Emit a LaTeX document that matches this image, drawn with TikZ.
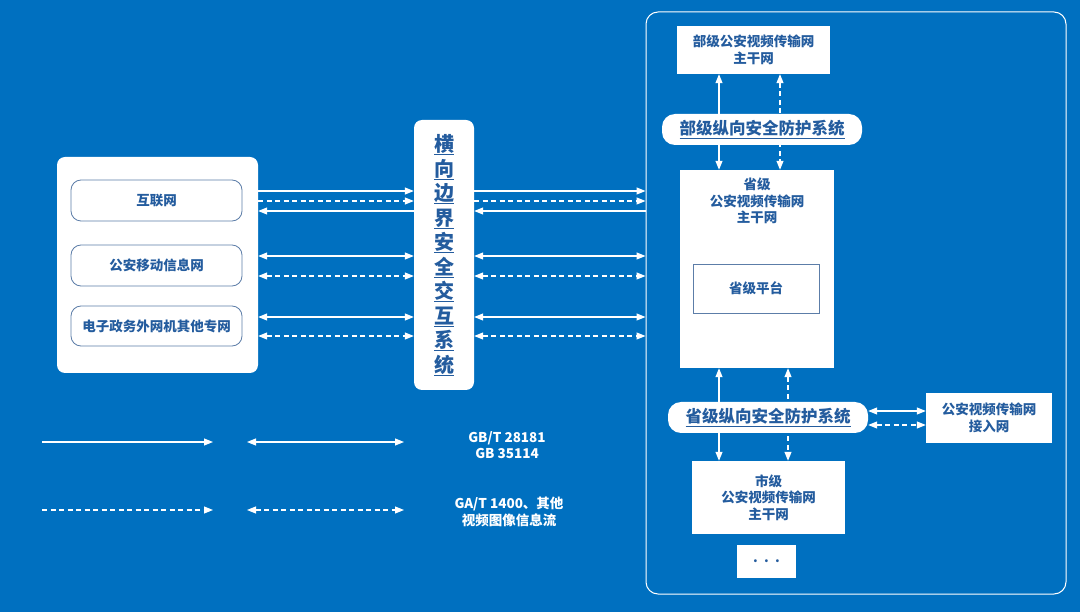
\documentclass[tikz,border=0pt]{standalone}
\usepackage{fontspec}
\setmainfont{Noto Sans CJK SC}
\usetikzlibrary{arrows.meta}
\definecolor{bgblue}{RGB}{0,112,192}
\definecolor{txtblue}{RGB}{36,92,158}
\definecolor{edgeblue}{RGB}{92,125,168}
\newcommand\ulchar[1]{\rlap{\rule[-3pt]{20pt}{0.7pt}}#1}
\tikzset{
  whitebox/.style={draw=none,fill=white,inner sep=0pt,align=center,text=txtblue,
    font=\bfseries\fontsize{13.5}{16.5}\selectfont},
  netbox/.style={whitebox,draw=edgeblue,line width=0.8pt,rounded corners=10pt},
  pillbox/.style={whitebox,rounded corners=13pt,font=\bfseries\fontsize{16.5}{18}\selectfont},
  solidln/.style={white,line width=1.1pt},
  dashln/.style={white,line width=1.1pt,dash pattern=on 5pt off 3.5pt},
  legendtxt/.style={align=center,text=white,font=\bfseries\fontsize{13.5}{16.5}\selectfont}
}

\begin{document}
\begin{tikzpicture}[x=1pt,y=1pt,yscale=-1,>={Triangle[length=9pt,width=7pt]}]
\useasboundingbox (0,0) rectangle (1080,612);
\fill[bgblue] (0,0) rectangle (1080,612);

% left networks
\node[whitebox,rounded corners=8pt,minimum width=201pt,minimum height=216pt] (lbox) at (157.5,265) {};
\node[netbox,minimum width=171pt,minimum height=41pt] (inet) at (156.5,200.5) {互联网};
\node[netbox,minimum width=171pt,minimum height=41pt] (mobile) at (156.5,265.5) {公安移动信息网};
\node[netbox,minimum width=171pt,minimum height=40pt] (egov) at (156.5,326) {电子政务外网机其他专网};

% horizontal boundary system
\node[whitebox,rounded corners=8pt,minimum width=60pt,minimum height=270pt,
  font=\bfseries\fontsize{20}{24.5}\selectfont] (hsys) at (444,255)
  {\ulchar{横}\\\ulchar{向}\\\ulchar{边}\\\ulchar{界}\\\ulchar{安}\\\ulchar{全}\\\ulchar{交}\\\ulchar{互}\\\ulchar{系}\\\ulchar{统}};

% right frame
\node[draw=white,line width=1pt,rounded corners=12pt,minimum width=420pt,minimum height=582pt,inner sep=0pt] (outer) at (856,303) {};

% rows of flows
\coordinate (ra) at (0,191);
\coordinate (rb) at (0,201);
\coordinate (rc) at (0,211);
\draw[solidln,->] (lbox.east |- ra) -- (hsys.west |- ra);
\draw[dashln,->] (lbox.east |- rb) -- (hsys.west |- rb);
\draw[solidln,<-] (lbox.east |- rc) -- (hsys.west |- rc);
\draw[solidln,->] (hsys.east |- ra) -- (outer.west |- ra);
\draw[dashln,->] (hsys.east |- rb) -- (outer.west |- rb);
\draw[solidln,<-] (hsys.east |- rc) -- (outer.west |- rc);
\foreach \r/\s/\y in {rd/solidln/256,re/dashln/276,rf/solidln/317,rg/dashln/336} {
  \coordinate (\r) at (0,\y);
  \draw[\s,<->] (lbox.east |- \r) -- (hsys.west |- \r);
  \draw[\s,<->] (hsys.east |- \r) -- (outer.west |- \r);
}

% ministry / province / city
\node[whitebox,minimum width=153pt,minimum height=48pt] (bu) at (753.5,50) {部级公安视频传输网\\主干网};
\node[whitebox,minimum width=154pt,minimum height=198pt] (prov) at (757,269) {};
\node[align=center,text=txtblue,font=\bfseries\fontsize{13.5}{16.5}\selectfont] (ptitle) at (757,201) {省级\\公安视频传输网\\主干网};
\node[whitebox,draw=edgeblue,line width=0.8pt,minimum width=126pt,minimum height=49pt] (plat) at (756,288.5) {省级平台};
\node[whitebox,minimum width=126pt,minimum height=50pt] (access) at (989,418) {公安视频传输网\\接入网};
\node[whitebox,minimum width=153pt,minimum height=73pt] (city) at (768.5,497.5) {市级\\公安视频传输网\\主干网};
\node[whitebox,minimum width=59pt,minimum height=33pt] (dots) at (766.5,561.5) {.\ \ .\ \ .};

% vertical flows
\coordinate (ca) at (719,0);
\coordinate (cb) at (780,0);
\coordinate (cc) at (788,0);
\draw[solidln,<->] (bu.south -| ca) -- (prov.north -| ca);
\draw[dashln,<->] (bu.south -| cb) -- (prov.north -| cb);
\draw[solidln,<->] (prov.south -| ca) -- (city.north -| ca);
\draw[dashln,<->] (prov.south -| cc) -- (city.north -| cc);

% security systems
\node[pillbox,minimum width=200pt,minimum height=31pt] (bupill) at (762,129.5) {\underline{部级纵向安全防护系统}};
\node[pillbox,minimum width=200pt,minimum height=31pt] (ppill) at (768,417.5) {\underline{省级纵向安全防护系统}};
\coordinate (rh) at (0,411);
\coordinate (ri) at (0,425);
\draw[solidln,<->] (ppill.east |- rh) -- (access.west |- rh);
\draw[dashln,<->] (ppill.east |- ri) -- (access.west |- ri);

% legend
\coordinate (la) at (42,442);
\coordinate (lb) at (213,442);
\coordinate (lc) at (247,442);
\coordinate (ld) at (404,442);
\coordinate (le) at (42,510);
\coordinate (lf) at (213,510);
\coordinate (lg) at (247,510);
\coordinate (lh) at (404,510);
\draw[solidln,->] (la) -- (lb);
\draw[solidln,<->] (lc) -- (ld);
\draw[dashln,->] (le) -- (lf);
\draw[dashln,<->] (lg) -- (lh);
\node[legendtxt] (lgsolid) at (507,445) {GB/T 28181\\GB 35114};
\node[legendtxt] (lgdash) at (509,512) {GA/T 1400、其他\\视频图像信息流};
\end{tikzpicture}
\end{document}
